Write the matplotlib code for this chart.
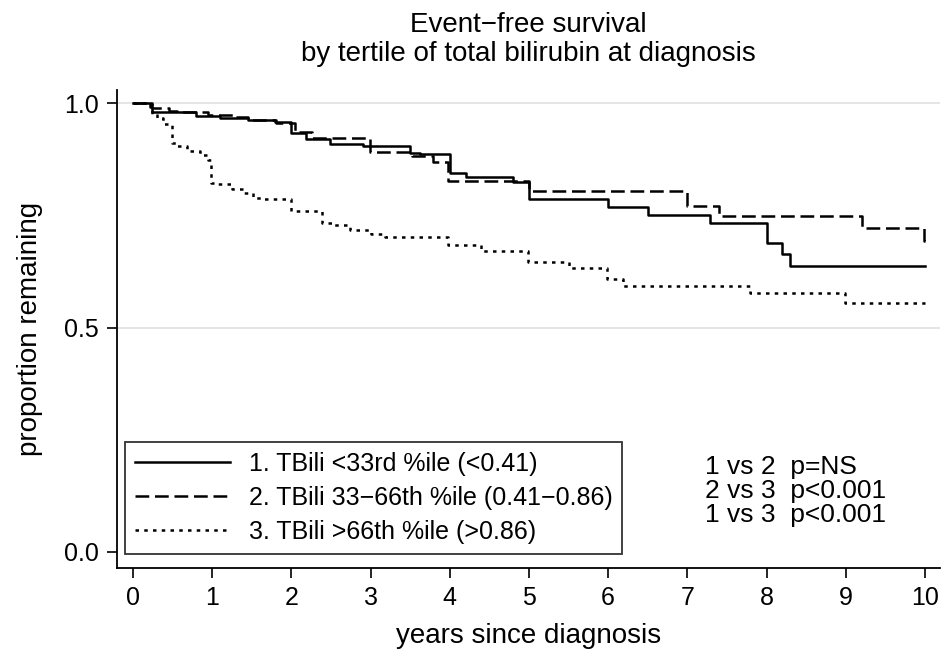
import matplotlib
matplotlib.use("Agg")
import matplotlib.pyplot as plt

plt.rcParams['font.family'] = ['Liberation Sans', 'DejaVu Sans']

# Kaplan-Meier step values (years, proportion remaining)
t_low = [0, 0.21, 0.24, 0.80, 1.10, 1.45, 1.79, 2.00, 2.19, 2.49, 2.91, 3.50, 3.62,
         4.00, 4.20, 4.80, 5.00, 6.00, 6.50, 7.28, 8.00, 8.20, 8.30, 10.0]
s_low = [1.0, 0.993, 0.980, 0.972, 0.967, 0.963, 0.958, 0.934, 0.920, 0.909, 0.905, 0.890, 0.887,
         0.846, 0.836, 0.825, 0.788, 0.770, 0.752, 0.734, 0.688, 0.664, 0.638, 0.638]

t_mid = [0, 0.24, 0.45, 0.55, 0.95, 1.30, 1.45, 1.80, 2.05, 2.26, 2.99, 3.52, 3.79,
         3.98, 5.00, 6.99, 7.40, 9.20, 9.99, 10.0]
s_mid = [1.0, 0.990, 0.984, 0.980, 0.975, 0.970, 0.964, 0.957, 0.937, 0.922, 0.892, 0.883, 0.870,
         0.826, 0.805, 0.772, 0.750, 0.722, 0.694, 0.694]

t_high = [0, 0.24, 0.30, 0.38, 0.49, 0.55, 0.68, 0.85, 0.95, 0.99, 1.05, 1.25, 1.39, 1.52,
          1.62, 1.99, 2.39, 2.53, 2.74, 3.01, 3.18, 3.98, 4.40, 4.99, 5.50, 5.99, 6.19,
          7.79, 8.99, 10.0]
s_high = [1.0, 0.977, 0.968, 0.955, 0.912, 0.905, 0.895, 0.885, 0.875, 0.823, 0.820, 0.810, 0.800, 0.790,
          0.786, 0.760, 0.733, 0.729, 0.718, 0.708, 0.703, 0.685, 0.672, 0.647, 0.634, 0.608, 0.593,
          0.577, 0.556, 0.556]

labels = ['1. TBili <33rd %ile (<0.41)',
          '2. TBili 33\u221266th %ile (0.41\u22120.86)',
          '3. TBili >66th %ile (>0.86)']
pvals = ['1 vs 2  p=NS', '2 vs 3  p<0.001', '1 vs 3  p<0.001']
xticks = list(range(0, 11))
yticks = [0.0, 0.5, 1.0]

fig = plt.figure(figsize=(9.43, 6.54), dpi=100)
ax = fig.add_axes([117 / 943, 1 - 568 / 654, 823 / 943, 478 / 654])

for yv in [0.5, 1.0]:
    ax.axhline(yv, color='#e3e3e3', lw=1.3, zorder=0)

lw = 1.8
ax.step(t_low, s_low, where='post', color='black', lw=lw, label=labels[0])
ax.step(t_mid, s_mid, where='post', color='black', lw=lw, dashes=(5.5, 2.3), label=labels[1])
ax.step(t_high, s_high, where='post', color='black', lw=lw, dashes=(1.4, 2.1), label=labels[2])

ax.set_xlim(-0.202, 10.19)
ax.set_ylim(-0.036, 1.03)
ax.set_xticks(xticks)
ax.set_yticks(yticks)
ax.set_yticklabels(['0.0', '0.5', '1.0'])
ax.tick_params(labelsize=18, length=7, width=1.2, direction='out', pad=6)
for sp in ['top', 'right']:
    ax.spines[sp].set_visible(False)
ax.spines['left'].set_linewidth(1.3)
ax.spines['bottom'].set_linewidth(1.3)

ax.set_xlabel('years since diagnosis', fontsize=20)
ax.set_ylabel('proportion remaining', fontsize=20)
ax.xaxis.set_label_coords(0.5, -0.115)
ax.yaxis.set_label_coords(-0.09, 0.5)

leg = ax.legend(loc='lower left', bbox_to_anchor=(0.0097, 0.03), borderaxespad=0,
                fontsize=18, frameon=True, fancybox=False, handlelength=3.8,
                handletextpad=0.75, labelspacing=0.4, borderpad=0.4)
leg.get_frame().set_edgecolor('black')
leg.get_frame().set_linewidth(1.3)

for i, txt in enumerate(pvals):
    ax.text(0.714, (568 - 474 - i * 24) / 478, txt, transform=ax.transAxes, fontsize=19,
            ha='left', va='baseline')

fig.text(528 / 943, 1 - 32 / 654, 'Event\u2212free survival', fontsize=20, ha='center', va='baseline')
fig.text(528 / 943, 1 - 61 / 654, 'by tertile of total bilirubin at diagnosis', fontsize=20,
         ha='center', va='baseline')

fig.savefig('out.png', dpi=100)
